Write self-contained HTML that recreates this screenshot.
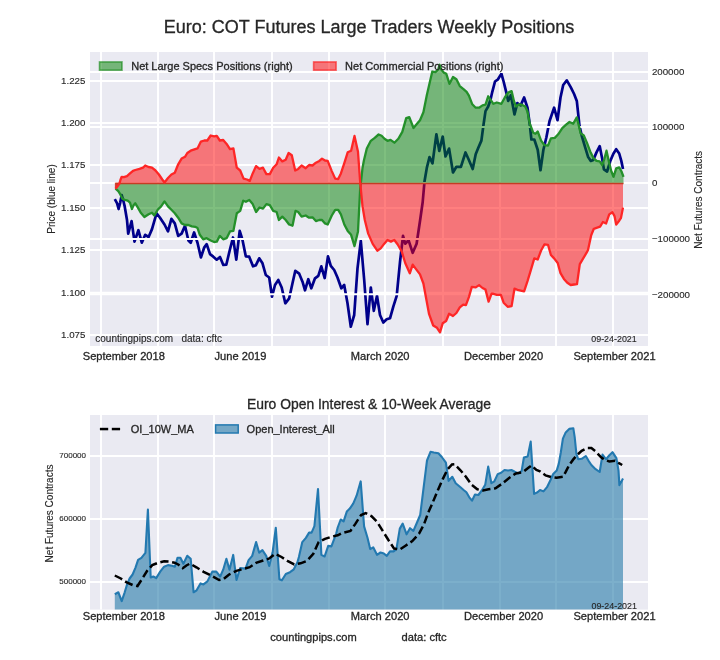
<!DOCTYPE html>
<html><head><meta charset="utf-8"><title>Euro COT</title>
<style>html,body{margin:0;padding:0;background:#fff;}svg{display:block;will-change:transform;}</style>
</head><body>
<svg width="720" height="660" viewBox="0 0 720 660"><defs><clipPath id="ct"><rect x="90" y="52" width="558" height="294"/></clipPath><clipPath id="cb"><rect x="90" y="415" width="558" height="194.6"/></clipPath></defs><rect width="720" height="660" fill="#fff"/><rect x="90" y="52" width="558" height="294" fill="#eaeaf2"/><g stroke="#fff" stroke-width="1.9" fill="none"><line x1="101" y1="52" x2="101" y2="346"/><line x1="158" y1="52" x2="158" y2="346"/><line x1="214" y1="52" x2="214" y2="346"/><line x1="272" y1="52" x2="272" y2="346"/><line x1="329" y1="52" x2="329" y2="346"/><line x1="385" y1="52" x2="385" y2="346"/><line x1="443" y1="52" x2="443" y2="346"/><line x1="500" y1="52" x2="500" y2="346"/><line x1="556" y1="52" x2="556" y2="346"/><line x1="613" y1="52" x2="613" y2="346"/><line x1="90" y1="81.00" x2="648" y2="81.00"/><line x1="90" y1="123.00" x2="648" y2="123.00"/><line x1="90" y1="165.00" x2="648" y2="165.00"/><line x1="90" y1="208.00" x2="648" y2="208.00"/><line x1="90" y1="250.00" x2="648" y2="250.00"/><line x1="90" y1="292.80" x2="648" y2="292.80"/><line x1="90" y1="335.00" x2="648" y2="335.00"/></g><g clip-path="url(#ct)"><polyline points="114.8,199.2 117.1,203.3 118.6,209.0 120.2,202.6 121.7,195.0 123.2,200.3 124.7,206.4 127.0,220.0 128.2,233.6 131.6,221.1 134.5,241.6 138.4,230.2 141.8,242.7 145.2,234.8 148.6,237.0 152.0,229.1 156.6,213.2 160.0,217.7 164.5,224.5 168.0,231.4 171.4,218.9 174.8,223.4 178.2,235.9 181.6,233.6 185.0,225.7 188.4,240.5 190.7,242.7 194.1,232.5 197.5,242.7 200.9,257.5 204.3,247.3 206.7,244.2 210.0,254.2 213.3,256.7 216.7,259.7 220.0,257.0 223.3,265.0 226.3,264.7 230.0,249.2 233.0,237.5 236.3,259.7 239.7,230.8 242.5,240.0 245.8,256.3 249.2,256.7 253.0,266.3 255.8,265.3 259.2,258.3 262.5,263.3 265.8,275.0 269.2,277.5 272.0,296.7 275.0,285.0 278.3,280.0 281.7,287.5 285.3,303.3 289.2,298.3 292.5,283.3 295.3,270.8 299.2,273.7 302.5,281.7 305.0,290.3 308.3,279.2 311.3,288.3 315.0,278.3 318.3,275.8 321.3,266.3 324.7,278.0 328.0,256.3 330.8,265.8 334.2,270.0 337.5,277.5 341.3,288.3 344.2,285.0 347.5,303.3 350.8,326.7 354.2,315.0 357.5,268.3 360.8,240.8 364.2,280.0 367.5,324.2 370.8,287.5 373.8,310.8 377.0,295.8 380.0,315.0 383.3,322.5 386.7,319.2 390.0,318.3 393.3,306.7 396.7,295.8 400.0,262.0 403.0,235.8 405.2,243.7 408.6,240.3 412.7,252.8 416.6,243.7 420.0,221.0 422.7,202.0 424.5,181.5 426.8,167.9 429.5,157.0 432.5,163.4 436.4,134.3 439.3,150.9 442.7,136.5 445.5,156.5 449.1,148.6 453.0,172.5 456.4,166.8 460.9,166.8 465.5,152.5 468.9,160.0 472.7,169.0 475.7,154.3 478.0,148.6 481.4,140.6 483.2,127.0 485.5,111.1 488.2,106.5 490.5,99.7 492.3,91.8 495.0,81.5 498.0,79.3 501.4,73.6 503.6,81.5 506.4,92.9 508.2,100.9 510.9,95.2 514.5,114.5 517.3,103.1 520.7,105.4 524.1,97.5 527.5,107.7 529.8,124.7 531.4,139.5 534.3,139.5 537.7,149.7 540.5,170.2 543.4,149.7 546.4,137.2 549.5,121.3 554.1,107.7 557.5,120.2 560.5,97.5 563.2,85.0 566.8,80.4 570.7,87.2 574.1,94.0 576.8,100.9 579.5,125.9 581.7,135.5 584.8,146.1 588.0,156.7 590.8,160.9 593.3,159.9 596.5,152.4 599.7,146.1 602.2,158.8 603.9,169.4 607.1,171.5 610.3,160.9 613.5,153.5 616.2,149.2 619.2,153.5 621.3,160.9 623.0,169.0" fill="none" stroke="#00008b" stroke-width="2.7" stroke-linejoin="round" stroke-linecap="butt"/><g stroke="#fff" stroke-width="1.9" fill="none"><line x1="90" y1="72.00" x2="648" y2="72.00"/><line x1="90" y1="127.00" x2="648" y2="127.00"/><line x1="90" y1="183.00" x2="648" y2="183.00"/><line x1="90" y1="239.00" x2="648" y2="239.00"/><line x1="90" y1="294.20" x2="648" y2="294.20"/></g><polygon points="115.6,188.6 118.3,191.2 120.2,194.2 122.4,198.8 124.7,199.9 127.7,200.7 130.0,202.6 131.9,209.0 133.4,205.6 135.3,203.3 137.6,207.1 140.6,212.4 144.4,217.0 148.6,214.3 152.0,212.7 154.3,215.5 157.7,209.8 161.1,206.4 164.5,201.4 168.0,206.4 171.4,209.8 174.8,213.2 178.2,217.7 181.6,223.4 185.0,225.0 188.4,225.0 191.8,226.4 195.2,226.8 197.5,228.0 199.8,234.8 203.2,239.3 206.6,238.2 210.7,240.5 214.1,242.0 216.8,241.6 219.8,235.9 223.2,239.3 226.6,238.2 230.0,231.4 233.4,230.9 236.8,213.2 240.2,210.9 243.2,200.7 245.9,201.8 249.3,200.0 252.7,204.1 256.1,212.0 259.5,207.5 263.0,208.6 266.4,204.1 269.8,205.2 273.2,210.9 276.6,212.0 278.9,220.0 282.3,216.6 285.7,220.0 289.1,224.5 292.5,225.7 295.5,210.9 298.2,212.0 301.6,216.6 305.7,215.5 309.1,217.7 312.5,217.3 315.9,221.1 319.3,220.0 322.0,220.0 325.0,223.4 327.7,224.5 331.8,215.5 335.2,209.8 338.2,209.8 340.9,214.3 344.3,224.5 347.7,230.9 351.1,234.8 354.5,246.1 358.0,231.4 360.2,188.2 361.2,180.0 362.5,168.0 363.9,160.5 366.8,148.6 370.8,140.8 374.7,137.8 378.6,134.5 381.6,135.8 384.5,138.8 387.5,140.8 390.5,139.8 394.4,142.7 398.3,138.8 402.3,131.9 406.2,118.1 409.3,117.1 413.5,128.0 416.6,124.3 420.0,120.2 423.4,112.2 426.8,95.2 430.2,80.4 432.3,71.5 435.4,72.2 438.2,69.5 439.6,64.8 441.3,69.5 443.8,72.6 446.3,73.8 449.5,83.8 453.0,77.0 456.4,79.3 459.8,86.1 463.2,88.8 466.6,91.8 468.9,95.6 472.3,104.3 475.7,107.7 479.1,107.7 482.5,105.4 485.5,104.7 488.2,96.3 490.5,99.7 493.4,103.8 496.8,102.5 501.4,103.8 504.8,97.5 508.2,92.5 511.6,91.1 513.9,100.9 516.1,106.5 519.1,104.3 521.8,104.7 525.2,106.5 527.5,111.5 529.8,123.6 533.2,132.7 535.5,133.8 537.7,131.5 541.1,140.6 544.5,145.2 548.0,145.6 550.9,138.4 554.8,137.9 558.2,134.3 562.3,128.1 566.1,124.7 569.5,122.0 573.2,123.8 576.8,117.4 578.9,125.9 580.6,133.3 583.8,135.5 587.0,142.9 590.2,151.4 593.3,157.7 596.5,160.9 599.7,161.3 602.2,165.2 604.4,158.8 606.5,150.7 609.2,163.0 611.4,171.5 613.5,176.8 616.2,168.3 619.2,167.3 621.5,171.5 623.5,176.8 623.5,183.5 115.6,183.5" fill="#008000" fill-opacity="0.5" stroke="none"/><polyline points="115.6,188.6 118.3,191.2 120.2,194.2 122.4,198.8 124.7,199.9 127.7,200.7 130.0,202.6 131.9,209.0 133.4,205.6 135.3,203.3 137.6,207.1 140.6,212.4 144.4,217.0 148.6,214.3 152.0,212.7 154.3,215.5 157.7,209.8 161.1,206.4 164.5,201.4 168.0,206.4 171.4,209.8 174.8,213.2 178.2,217.7 181.6,223.4 185.0,225.0 188.4,225.0 191.8,226.4 195.2,226.8 197.5,228.0 199.8,234.8 203.2,239.3 206.6,238.2 210.7,240.5 214.1,242.0 216.8,241.6 219.8,235.9 223.2,239.3 226.6,238.2 230.0,231.4 233.4,230.9 236.8,213.2 240.2,210.9 243.2,200.7 245.9,201.8 249.3,200.0 252.7,204.1 256.1,212.0 259.5,207.5 263.0,208.6 266.4,204.1 269.8,205.2 273.2,210.9 276.6,212.0 278.9,220.0 282.3,216.6 285.7,220.0 289.1,224.5 292.5,225.7 295.5,210.9 298.2,212.0 301.6,216.6 305.7,215.5 309.1,217.7 312.5,217.3 315.9,221.1 319.3,220.0 322.0,220.0 325.0,223.4 327.7,224.5 331.8,215.5 335.2,209.8 338.2,209.8 340.9,214.3 344.3,224.5 347.7,230.9 351.1,234.8 354.5,246.1 358.0,231.4 360.2,188.2 361.2,180.0 362.5,168.0 363.9,160.5 366.8,148.6 370.8,140.8 374.7,137.8 378.6,134.5 381.6,135.8 384.5,138.8 387.5,140.8 390.5,139.8 394.4,142.7 398.3,138.8 402.3,131.9 406.2,118.1 409.3,117.1 413.5,128.0 416.6,124.3 420.0,120.2 423.4,112.2 426.8,95.2 430.2,80.4 432.3,71.5 435.4,72.2 438.2,69.5 439.6,64.8 441.3,69.5 443.8,72.6 446.3,73.8 449.5,83.8 453.0,77.0 456.4,79.3 459.8,86.1 463.2,88.8 466.6,91.8 468.9,95.6 472.3,104.3 475.7,107.7 479.1,107.7 482.5,105.4 485.5,104.7 488.2,96.3 490.5,99.7 493.4,103.8 496.8,102.5 501.4,103.8 504.8,97.5 508.2,92.5 511.6,91.1 513.9,100.9 516.1,106.5 519.1,104.3 521.8,104.7 525.2,106.5 527.5,111.5 529.8,123.6 533.2,132.7 535.5,133.8 537.7,131.5 541.1,140.6 544.5,145.2 548.0,145.6 550.9,138.4 554.8,137.9 558.2,134.3 562.3,128.1 566.1,124.7 569.5,122.0 573.2,123.8 576.8,117.4 578.9,125.9 580.6,133.3 583.8,135.5 587.0,142.9 590.2,151.4 593.3,157.7 596.5,160.9 599.7,161.3 602.2,165.2 604.4,158.8 606.5,150.7 609.2,163.0 611.4,171.5 613.5,176.8 616.2,168.3 619.2,167.3 621.5,171.5 623.5,176.8" fill="none" stroke="#24902a" stroke-width="2.3" stroke-linejoin="round"/><polygon points="115.6,188.6 117.5,186.3 119.4,183.6 120.5,179.8 121.7,176.8 123.9,177.2 127.0,176.1 130.0,173.4 133.0,170.8 135.3,170.0 139.5,168.9 143.0,167.7 145.2,165.5 148.6,167.0 152.0,167.7 155.5,170.5 158.9,174.5 162.3,179.5 164.5,182.5 168.0,178.0 171.4,174.5 174.8,172.7 178.2,164.3 181.6,158.6 185.0,156.8 187.3,153.0 190.7,150.7 195.2,149.1 197.5,148.4 200.9,141.6 204.3,140.5 207.3,140.5 210.7,135.5 214.1,136.4 216.8,135.9 219.8,140.5 223.2,140.0 226.6,143.9 230.0,149.1 233.4,148.4 236.8,167.7 240.2,170.5 243.6,178.6 247.0,179.5 249.8,180.9 252.7,173.4 256.1,166.1 259.5,168.9 263.0,167.7 266.4,174.1 269.8,174.1 273.2,167.7 276.6,164.3 278.9,157.5 282.3,161.4 285.7,159.8 288.6,153.0 291.8,155.2 295.2,170.5 298.2,168.9 301.6,165.5 305.7,168.2 309.1,165.0 312.5,165.5 315.9,162.7 319.3,160.9 322.0,158.6 325.0,160.5 327.7,160.9 331.8,171.1 335.2,178.6 338.2,179.1 340.9,173.4 344.3,163.2 347.7,152.3 351.1,150.7 354.5,135.9 358.0,151.8 360.2,182.5 362.5,206.4 364.8,220.0 368.2,233.6 372.7,243.9 377.3,250.7 380.7,248.4 384.1,243.9 387.5,240.0 390.9,241.6 394.3,240.0 397.7,244.5 401.8,251.7 405.2,263.0 409.8,273.3 412.7,264.6 416.6,269.9 420.0,274.4 423.4,283.5 425.7,296.0 429.1,314.2 433.2,325.5 437.0,327.8 440.0,332.4 442.7,323.3 446.1,321.0 449.1,313.7 453.0,316.0 456.4,313.0 459.8,307.4 463.2,304.6 465.9,305.1 468.9,297.1 471.8,286.9 475.7,287.4 479.1,285.1 482.5,288.0 485.5,289.6 488.6,301.7 491.6,293.7 492.7,293.6 496.8,294.8 500.9,294.8 503.6,302.7 507.7,306.8 511.6,306.1 514.5,288.6 518.4,290.2 524.1,291.4 527.5,281.1 530.9,269.8 534.3,258.4 537.7,259.5 541.1,250.5 544.5,244.3 548.0,244.8 550.9,255.0 554.1,258.4 557.7,263.0 560.5,273.2 563.9,278.9 567.3,282.7 570.7,285.0 574.1,284.5 577.0,284.1 579.8,264.1 583.2,258.4 586.6,252.7 588.0,250.0 591.2,235.2 593.8,228.8 597.2,227.7 600.1,226.7 602.9,222.0 606.1,223.5 609.2,214.4 612.4,212.2 614.5,216.1 616.2,224.6 619.2,220.7 620.9,218.2 623.0,207.6 623.0,183.5 115.6,183.5" fill="#ff0000" fill-opacity="0.5" stroke="none"/><polygon points="114.9,182.8 114.9,189.3 116.2,189.3 120.3,182.8" fill="#d23a2c" fill-opacity="0.9"/><line x1="115.6" y1="183.5" x2="623.5" y2="183.5" stroke="#c63c24" stroke-width="1.5"/><polyline points="115.6,188.6 117.5,186.3 119.4,183.6 120.5,179.8 121.7,176.8 123.9,177.2 127.0,176.1 130.0,173.4 133.0,170.8 135.3,170.0 139.5,168.9 143.0,167.7 145.2,165.5 148.6,167.0 152.0,167.7 155.5,170.5 158.9,174.5 162.3,179.5 164.5,182.5 168.0,178.0 171.4,174.5 174.8,172.7 178.2,164.3 181.6,158.6 185.0,156.8 187.3,153.0 190.7,150.7 195.2,149.1 197.5,148.4 200.9,141.6 204.3,140.5 207.3,140.5 210.7,135.5 214.1,136.4 216.8,135.9 219.8,140.5 223.2,140.0 226.6,143.9 230.0,149.1 233.4,148.4 236.8,167.7 240.2,170.5 243.6,178.6 247.0,179.5 249.8,180.9 252.7,173.4 256.1,166.1 259.5,168.9 263.0,167.7 266.4,174.1 269.8,174.1 273.2,167.7 276.6,164.3 278.9,157.5 282.3,161.4 285.7,159.8 288.6,153.0 291.8,155.2 295.2,170.5 298.2,168.9 301.6,165.5 305.7,168.2 309.1,165.0 312.5,165.5 315.9,162.7 319.3,160.9 322.0,158.6 325.0,160.5 327.7,160.9 331.8,171.1 335.2,178.6 338.2,179.1 340.9,173.4 344.3,163.2 347.7,152.3 351.1,150.7 354.5,135.9 358.0,151.8 360.2,182.5 362.5,206.4 364.8,220.0 368.2,233.6 372.7,243.9 377.3,250.7 380.7,248.4 384.1,243.9 387.5,240.0 390.9,241.6 394.3,240.0 397.7,244.5 401.8,251.7 405.2,263.0 409.8,273.3 412.7,264.6 416.6,269.9 420.0,274.4 423.4,283.5 425.7,296.0 429.1,314.2 433.2,325.5 437.0,327.8 440.0,332.4 442.7,323.3 446.1,321.0 449.1,313.7 453.0,316.0 456.4,313.0 459.8,307.4 463.2,304.6 465.9,305.1 468.9,297.1 471.8,286.9 475.7,287.4 479.1,285.1 482.5,288.0 485.5,289.6 488.6,301.7 491.6,293.7 492.7,293.6 496.8,294.8 500.9,294.8 503.6,302.7 507.7,306.8 511.6,306.1 514.5,288.6 518.4,290.2 524.1,291.4 527.5,281.1 530.9,269.8 534.3,258.4 537.7,259.5 541.1,250.5 544.5,244.3 548.0,244.8 550.9,255.0 554.1,258.4 557.7,263.0 560.5,273.2 563.9,278.9 567.3,282.7 570.7,285.0 574.1,284.5 577.0,284.1 579.8,264.1 583.2,258.4 586.6,252.7 588.0,250.0 591.2,235.2 593.8,228.8 597.2,227.7 600.1,226.7 602.9,222.0 606.1,223.5 609.2,214.4 612.4,212.2 614.5,216.1 616.2,224.6 619.2,220.7 620.9,218.2 623.0,207.6" fill="none" stroke="#fe2626" stroke-width="2.3" stroke-linejoin="round"/></g><rect x="99.5" y="61.9" width="22.5" height="8.3" fill="#008000" fill-opacity="0.5" stroke="#008000" stroke-opacity="0.55" stroke-width="1.6"/><rect x="313.6" y="61.9" width="22.5" height="8.3" fill="#ff0000" fill-opacity="0.5" stroke="#ff0000" stroke-opacity="0.55" stroke-width="1.6"/><g font-family="Liberation Sans, Arial, sans-serif" fill="#262626" stroke="#262626" stroke-width="0.3" paint-order="stroke"><text x="131.2" y="69.9" font-size="11">Net Large Specs Positions (right)</text><text x="345.1" y="69.9" font-size="11">Net Commercial Positions (right)</text><text x="95.3" y="341.6" font-size="10" stroke-width="0.12" xml:space="preserve">countingpips.com   data: cftc</text><text x="591.3" y="341.6" font-size="8.9" stroke-width="0.12">09-24-2021</text><text x="369" y="32.8" font-size="18" text-anchor="middle">Euro: COT Futures Large Traders Weekly Positions</text><text x="85.4" y="84.3" font-size="9.72" stroke-width="0.12" text-anchor="end">1.225</text><text x="85.4" y="126.3" font-size="9.72" stroke-width="0.12" text-anchor="end">1.200</text><text x="85.4" y="168.3" font-size="9.72" stroke-width="0.12" text-anchor="end">1.175</text><text x="85.4" y="211.3" font-size="9.72" stroke-width="0.12" text-anchor="end">1.150</text><text x="85.4" y="253.3" font-size="9.72" stroke-width="0.12" text-anchor="end">1.125</text><text x="85.4" y="296.1" font-size="9.72" stroke-width="0.12" text-anchor="end">1.100</text><text x="85.4" y="338.3" font-size="9.72" stroke-width="0.12" text-anchor="end">1.075</text><text x="651.9" y="75.3" font-size="9.72" stroke-width="0.12">200000</text><text x="651.9" y="130.3" font-size="9.72" stroke-width="0.12">100000</text><text x="651.9" y="186.3" font-size="9.72" stroke-width="0.12">0</text><text x="651.9" y="242.3" font-size="9.72" stroke-width="0.12">−100000</text><text x="651.9" y="297.5" font-size="9.72" stroke-width="0.12">−200000</text><text x="123.8" y="359.9" font-size="11.11" text-anchor="middle">September 2018</text><text x="123.8" y="620.4" font-size="11.11" text-anchor="middle">September 2018</text><text x="240.5" y="359.9" font-size="11.11" text-anchor="middle">June 2019</text><text x="240.5" y="620.4" font-size="11.11" text-anchor="middle">June 2019</text><text x="380.2" y="359.9" font-size="11.11" text-anchor="middle">March 2020</text><text x="380.2" y="620.4" font-size="11.11" text-anchor="middle">March 2020</text><text x="503.6" y="359.9" font-size="11.11" text-anchor="middle">December 2020</text><text x="503.6" y="620.4" font-size="11.11" text-anchor="middle">December 2020</text><text x="614.5" y="359.9" font-size="11.11" text-anchor="middle">September 2021</text><text x="614.5" y="620.4" font-size="11.11" text-anchor="middle">September 2021</text><text transform="translate(54.8,199) rotate(-90)" font-size="10" stroke-width="0.12" text-anchor="middle">Price (blue line)</text><text transform="translate(701.6,199.8) rotate(-90)" font-size="10" stroke-width="0.12" text-anchor="middle">Net Futures Contracts</text></g><rect x="90" y="415" width="558" height="194.60000000000002" fill="#eaeaf2"/><g stroke="#fff" stroke-width="1.9" fill="none"><line x1="101" y1="415" x2="101" y2="609.6"/><line x1="158" y1="415" x2="158" y2="609.6"/><line x1="214" y1="415" x2="214" y2="609.6"/><line x1="272" y1="415" x2="272" y2="609.6"/><line x1="329" y1="415" x2="329" y2="609.6"/><line x1="385" y1="415" x2="385" y2="609.6"/><line x1="443" y1="415" x2="443" y2="609.6"/><line x1="500" y1="415" x2="500" y2="609.6"/><line x1="556" y1="415" x2="556" y2="609.6"/><line x1="613" y1="415" x2="613" y2="609.6"/><line x1="90" y1="456.00" x2="648" y2="456.00"/><line x1="90" y1="519.00" x2="648" y2="519.00"/><line x1="90" y1="582.00" x2="648" y2="582.00"/></g><g clip-path="url(#cb)"><polygon points="114.8,594.2 118.4,592.3 121.7,601.1 124.7,592.3 127.1,584.4 129.6,578.5 132.6,574.5 135.5,567.6 138.1,559.8 141.4,557.8 145.4,552.9 147.9,509.5 150.7,577.5 153.3,576.5 156.2,578.1 160.2,571.6 164.1,566.7 168.0,565.1 172.0,565.7 174.9,566.7 177.5,557.8 180.4,557.8 183.4,563.7 187.3,555.8 190.7,558.8 193.6,592.3 196.6,590.3 200.5,583.4 203.5,584.4 207.4,581.4 212.3,571.6 216.3,571.6 220.2,576.5 223.2,569.7 226.4,558.7 229.5,569.7 233.2,554.9 236.5,579.9 240.2,568.0 245.5,568.6 248.6,560.2 252.2,555.9 256.1,542.1 259.2,552.7 262.4,550.2 266.2,555.9 269.2,565.9 272.6,552.3 275.8,527.7 279.4,579.2 281.9,580.3 285.8,574.0 290.0,572.2 293.8,569.3 297.4,562.3 298.9,557.0 302.3,542.1 305.9,537.9 309.1,532.6 311.6,532.6 314.4,526.2 318.0,489.1 321.4,554.9 324.6,556.5 328.2,545.9 331.4,546.4 336.2,533.6 337.7,527.5 340.7,519.5 343.6,521.4 346.8,511.6 349.8,508.6 353.2,503.6 356.6,495.7 360.7,481.4 364.1,526.4 367.5,537.7 370.2,549.1 373.2,547.3 377.0,554.8 380.5,552.5 383.9,553.6 386.8,555.9 390.0,551.4 393.6,551.4 396.4,549.1 399.8,528.6 402.7,523.6 406.6,534.3 410.0,528.2 413.4,530.9 416.8,523.0 420.2,515.0 423.6,487.7 427.0,460.5 430.5,451.8 433.9,452.5 438.4,453.2 441.8,457.0 445.9,462.7 448.6,480.9 452.3,476.8 455.7,483.2 460.2,487.0 463.6,490.0 466.4,492.3 469.3,497.3 472.0,500.7 475.0,494.5 478.4,495.0 481.8,490.5 485.2,484.8 488.2,466.6 491.4,483.2 494.3,481.4 497.7,474.1 501.1,472.7 504.5,470.0 508.0,470.5 511.4,470.0 514.8,471.8 518.2,473.4 521.6,471.1 523.9,457.5 527.7,456.4 530.7,441.6 534.1,493.9 537.5,492.3 540.0,490.0 543.5,491.4 547.0,487.2 550.4,480.3 553.2,474.0 556.7,470.6 558.8,463.6 560.8,452.5 562.9,438.6 565.7,432.4 569.2,428.9 573.3,428.2 574.7,437.2 576.4,453.9 578.2,459.2 581.7,458.8 585.8,456.0 588.6,460.8 591.4,465.0 595.6,469.2 599.7,472.0 602.5,454.6 606.0,459.2 609.4,455.3 612.5,452.2 616.4,458.1 618.5,470.6 619.4,485.1 621.3,481.7 623.0,478.6 623.0,611.6 114.8,611.6" fill="#2579a9" fill-opacity="0.6" stroke="none"/><polyline points="114.8,594.2 118.4,592.3 121.7,601.1 124.7,592.3 127.1,584.4 129.6,578.5 132.6,574.5 135.5,567.6 138.1,559.8 141.4,557.8 145.4,552.9 147.9,509.5 150.7,577.5 153.3,576.5 156.2,578.1 160.2,571.6 164.1,566.7 168.0,565.1 172.0,565.7 174.9,566.7 177.5,557.8 180.4,557.8 183.4,563.7 187.3,555.8 190.7,558.8 193.6,592.3 196.6,590.3 200.5,583.4 203.5,584.4 207.4,581.4 212.3,571.6 216.3,571.6 220.2,576.5 223.2,569.7 226.4,558.7 229.5,569.7 233.2,554.9 236.5,579.9 240.2,568.0 245.5,568.6 248.6,560.2 252.2,555.9 256.1,542.1 259.2,552.7 262.4,550.2 266.2,555.9 269.2,565.9 272.6,552.3 275.8,527.7 279.4,579.2 281.9,580.3 285.8,574.0 290.0,572.2 293.8,569.3 297.4,562.3 298.9,557.0 302.3,542.1 305.9,537.9 309.1,532.6 311.6,532.6 314.4,526.2 318.0,489.1 321.4,554.9 324.6,556.5 328.2,545.9 331.4,546.4 336.2,533.6 337.7,527.5 340.7,519.5 343.6,521.4 346.8,511.6 349.8,508.6 353.2,503.6 356.6,495.7 360.7,481.4 364.1,526.4 367.5,537.7 370.2,549.1 373.2,547.3 377.0,554.8 380.5,552.5 383.9,553.6 386.8,555.9 390.0,551.4 393.6,551.4 396.4,549.1 399.8,528.6 402.7,523.6 406.6,534.3 410.0,528.2 413.4,530.9 416.8,523.0 420.2,515.0 423.6,487.7 427.0,460.5 430.5,451.8 433.9,452.5 438.4,453.2 441.8,457.0 445.9,462.7 448.6,480.9 452.3,476.8 455.7,483.2 460.2,487.0 463.6,490.0 466.4,492.3 469.3,497.3 472.0,500.7 475.0,494.5 478.4,495.0 481.8,490.5 485.2,484.8 488.2,466.6 491.4,483.2 494.3,481.4 497.7,474.1 501.1,472.7 504.5,470.0 508.0,470.5 511.4,470.0 514.8,471.8 518.2,473.4 521.6,471.1 523.9,457.5 527.7,456.4 530.7,441.6 534.1,493.9 537.5,492.3 540.0,490.0 543.5,491.4 547.0,487.2 550.4,480.3 553.2,474.0 556.7,470.6 558.8,463.6 560.8,452.5 562.9,438.6 565.7,432.4 569.2,428.9 573.3,428.2 574.7,437.2 576.4,453.9 578.2,459.2 581.7,458.8 585.8,456.0 588.6,460.8 591.4,465.0 595.6,469.2 599.7,472.0 602.5,454.6 606.0,459.2 609.4,455.3 612.5,452.2 616.4,458.1 618.5,470.6 619.4,485.1 621.3,481.7 623.0,478.6" fill="none" stroke="#2379b0" stroke-width="2.1" stroke-linejoin="round"/><polyline points="114.8,575.5 120.8,578.5 126.7,582.4 132.6,585.0 137.5,586.0 142.4,578.5 147.3,570.6 152.3,565.1 158.2,562.7 164.1,561.3 170.0,561.7 174.5,562.7 178.2,564.5 182.7,568.2 186.4,565.5 190.0,563.6 196.4,567.3 203.6,571.8 210.9,575.5 219.1,580.0 223.6,579.0 229.1,574.5 236.4,570.9 243.3,568.9 249.7,567.2 256.1,562.9 262.4,560.8 268.8,558.7 275.2,553.8 281.5,557.0 287.9,561.2 294.2,564.4 300.6,563.3 307.0,560.8 313.3,553.8 318.6,542.1 325.0,538.9 331.4,536.8 337.7,535.3 341.8,533.2 350.5,530.9 355.5,523.6 361.1,515.0 365.7,513.2 371.4,516.1 377.0,521.8 382.7,530.9 388.4,540.0 394.1,548.6 399.8,549.5 405.5,545.7 412.3,541.1 419.1,533.6 424.1,524.1 428.2,512.7 432.7,502.5 438.4,488.9 443.0,478.6 447.5,469.5 452.0,464.5 454.5,464.3 460.2,470.0 465.9,476.8 471.6,484.8 477.3,489.3 483.0,490.5 488.6,489.3 495.5,488.2 502.3,483.6 509.1,478.0 515.9,473.4 522.7,472.3 528.4,467.7 531.4,465.5 536.4,470.0 540.0,471.3 545.6,475.4 551.1,477.1 556.7,477.8 562.9,476.8 565.7,471.9 569.2,465.0 573.3,459.4 576.8,455.3 581.7,450.8 587.2,448.1 591.4,448.1 595.6,451.4 601.1,457.4 605.3,460.1 609.4,461.5 615.0,460.8 618.5,462.9 622.2,465.0" fill="none" stroke="#000" stroke-width="2.5" stroke-dasharray="8.3 3.6"/></g><line x1="99.9" y1="429.05" x2="108.2" y2="429.05" stroke="#000" stroke-width="2.5"/><line x1="111.8" y1="429.05" x2="120.1" y2="429.05" stroke="#000" stroke-width="2.5"/><rect x="215.6" y="424.9" width="22.6" height="8.1" fill="#2579a9" fill-opacity="0.6" stroke="#2379b0" stroke-width="1.5"/><g font-family="Liberation Sans, Arial, sans-serif" fill="#262626" stroke="#262626" stroke-width="0.3" paint-order="stroke"><text x="130.8" y="433" font-size="11">OI_10W_MA</text><text x="246.6" y="433" font-size="11">Open_Interest_All</text><text x="369" y="408.7" font-size="13.89" text-anchor="middle">Euro Open Interest &amp; 10-Week Average</text><text x="86" text-anchor="end" y="457.8" font-size="8" stroke-width="0.12">700000</text><text x="86" text-anchor="end" y="520.8" font-size="8" stroke-width="0.12">600000</text><text x="86" text-anchor="end" y="583.8" font-size="8" stroke-width="0.12">500000</text><text x="591.5" y="608.9" font-size="8.9" stroke-width="0.12">09-24-2021</text><text transform="translate(53.2,513.5) rotate(-90)" font-size="10" stroke-width="0.12" text-anchor="middle">Net Futures Contracts</text><text x="270.3" y="640.7" font-size="11.11">countingpips.com</text><text x="401.6" y="640.7" font-size="11.11">data: cftc</text></g></svg>
</body></html>
